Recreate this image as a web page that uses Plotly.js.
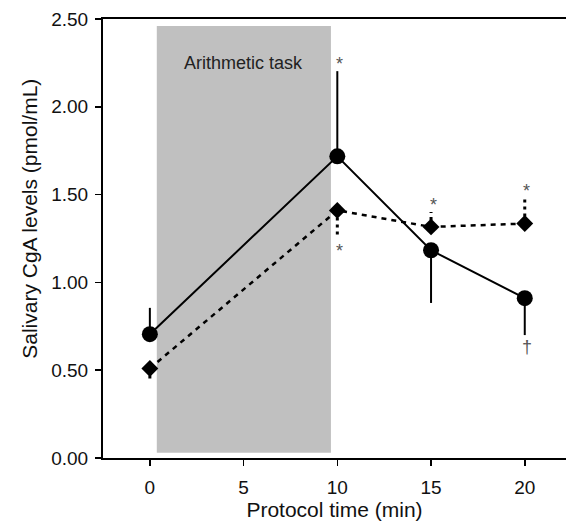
<!DOCTYPE html>
<html>
<head>
<meta charset="utf-8">
<script src="https://cdn.plot.ly/plotly-3.0.1.min.js"></script>
<style>html,body{margin:0;padding:0;background:#fff;}#chart{width:566px;height:522px;}</style>
</head>
<body>
<div id="chart"></div>
<script>
// ---- data ----
const times = [0, 10, 15, 20];
const tickLabelsX = ['0', '5', '10', '15', '20'];
const tickValsX = [0, 5, 10, 15, 20];
const tickValsY = [0, 0.5, 1.0, 1.5, 2.0, 2.5];

// solid line, circles
const circleMean = [0.705, 1.718, 1.183, 0.91];
const circleErrUp = [0.15, 0.485, 0, 0];
const circleErrDown = [0, 0, 0.30, 0.21];

// dotted line, diamonds
const diamondMean = [0.51, 1.41, 1.316, 1.335];
const diamondErrUp = [0, 0, 0.085, 0.145];
const diamondErrDown = [0.08, 0.14, 0, 0];

// significance marks: series, point index, symbol, side
const sigSeries = ['circle', 'diamond', 'diamond', 'diamond', 'circle'];
const sigIndex = [1, 1, 2, 3, 3];
const sigText = ['*', '*', '*', '*', '†'];
const sigSide = ['up', 'down', 'up', 'up', 'down'];

const taskLabel = 'Arithmetic task';
const taskSpan = [0.37, 9.66];

// ---- build traces ----
const FONT = 'Liberation Sans, Arial, sans-serif';

const dErrX = [], dErrY = [];
for (let i = 0; i < times.length; i++) {
  dErrX.push(times[i], times[i], null);
  if (diamondErrUp[i] > 0) dErrY.push(diamondMean[i], diamondMean[i] + diamondErrUp[i], null);
  else dErrY.push(diamondMean[i], diamondMean[i] - diamondErrDown[i], null);
}

const traces = [
  {
    x: dErrX, y: dErrY, mode: 'lines', type: 'scatter', hoverinfo: 'skip',
    line: {color: '#000', width: 3, dash: '3px,4px'}, showlegend: false
  },
  {
    x: times, y: diamondMean, mode: 'lines+markers', type: 'scatter',
    line: {color: '#000', width: 2.5, dash: '5px,5px'},
    marker: {symbol: 'diamond', size: 13, color: '#000'}, showlegend: false
  },
  {
    x: times, y: circleMean, mode: 'lines+markers', type: 'scatter',
    line: {color: '#000', width: 2},
    marker: {symbol: 'circle', size: 16, color: '#000'},
    error_y: {type: 'data', symmetric: false, array: circleErrUp, arrayminus: circleErrDown,
              color: '#000', thickness: 2, width: 0},
    showlegend: false
  }
];

const annotations = [];
for (let k = 0; k < sigText.length; k++) {
  const i = sigIndex[k];
  const isC = sigSeries[k] === 'circle';
  const m = isC ? circleMean[i] : diamondMean[i];
  const up = isC ? circleErrUp[i] : diamondErrUp[i];
  const dn = isC ? circleErrDown[i] : diamondErrDown[i];
  const yv = sigSide[k] === 'up' ? m + up : m - dn;
  annotations.push({
    x: times[i], y: yv, xref: 'x', yref: 'y', text: sigText[k], showarrow: false,
    xanchor: 'center', yanchor: sigSide[k] === 'up' ? 'bottom' : 'top',
    xshift: 2, yshift: sigSide[k] === 'up' ? -5 : (sigText[k] === '*' ? -4 : 0),
    font: {family: FONT, size: 18, color: '#555'}
  });
}
annotations.push({
  x: (taskSpan[0] + taskSpan[1]) / 2, y: 2.25, xref: 'x', yref: 'y', text: taskLabel,
  showarrow: false, font: {family: FONT, size: 18, color: '#222'}
});
// y-axis title (drawn as annotation so it can sit slightly above centre, as in the reference)
annotations.push({
  x: 0, y: 0.545, xref: 'paper', yref: 'paper', xshift: -73, textangle: -90,
  xanchor: 'center', yanchor: 'middle', showarrow: false,
  text: 'Salivary CgA levels (pmol/mL)', font: {family: FONT, size: 21, color: '#111'}
});

const layout = {
  width: 566, height: 522,
  margin: {l: 103, r: 0, t: 19, b: 64, pad: 0},
  paper_bgcolor: '#fff', plot_bgcolor: '#fff',
  font: {family: FONT, color: '#111'},
  showlegend: false,
  xaxis: {
    range: [-2.5, 22.2], tickvals: tickValsX, ticktext: tickLabelsX,
    showgrid: false, zeroline: false, showline: true, mirror: true,
    linecolor: '#000', linewidth: 2, ticks: 'outside', ticklen: 6, tickwidth: 1.5, tickcolor: '#000',
    tickfont: {family: FONT, size: 19, color: '#111'}, ticklabelstandoff: 5,
    title: {text: 'Protocol time (min)', font: {family: FONT, size: 21, color: '#111'}, standoff: 3}
  },
  yaxis: {
    range: [0, 2.5], tickvals: tickValsY, tickformat: '.2f',
    showgrid: false, zeroline: false, showline: true, mirror: false,
    linecolor: '#000', linewidth: 2, ticks: 'outside', ticklen: 6, tickwidth: 1.5, tickcolor: '#000',
    tickfont: {family: FONT, size: 19, color: '#111'}, ticklabelstandoff: 3
  },
  shapes: [{
    type: 'rect', xref: 'x', yref: 'y', x0: taskSpan[0], x1: taskSpan[1], y0: 0.03, y1: 2.46,
    fillcolor: '#c0c0c0', line: {width: 0}, layer: 'below'
  }],
  annotations: annotations
};

Plotly.newPlot('chart', traces, layout, {displayModeBar: false, staticPlot: true});
</script>
</body>
</html>
